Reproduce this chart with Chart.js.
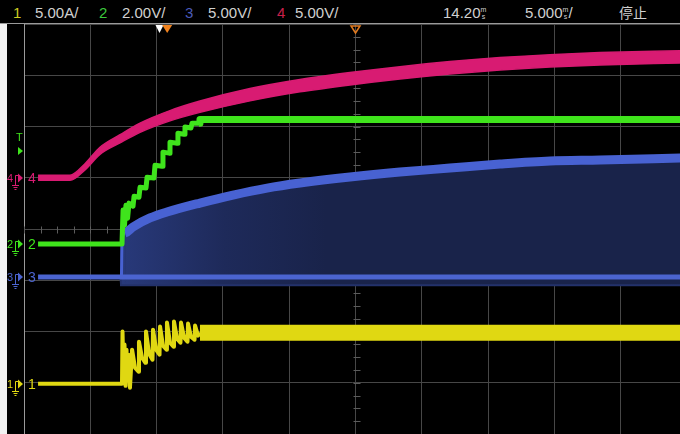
<!DOCTYPE html>
<html>
<head>
<meta charset="utf-8">
<script src="https://cdn.jsdelivr.net/npm/chart.js@4.4.0/dist/chart.umd.min.js"></script>
<style>
  html, body { margin: 0; padding: 0; background: #000; }
  #wrap { position: relative; width: 680px; height: 434px; overflow: hidden; background: #000; font-family: "Liberation Sans", Arial, sans-serif; }
  #scope { position: absolute; left: 0; top: 0; }
  #header { position: absolute; left: 0; top: 0; width: 680px; height: 23px; border-bottom: 1px solid #9a9a9a; background: #000; color: #d0d0d0; font-size: 15px; }
  #header span { position: absolute; top: 4px; line-height: 17px; white-space: nowrap; }
  #header .stk { position: static; display: inline-block; font-size: 7px; line-height: 7px; vertical-align: top; margin-top: 2px; text-align: center; }
  #strip { position: absolute; left: 0; top: 24px; width: 7px; height: 410px; background: #f2f2f2; }
  .mk { position: absolute; }
</style>
</head>
<body>
<div id="wrap">
  <canvas id="scope" width="680" height="434"></canvas>
  <div id="header">
    <span style="left:13px;color:#cccc22">1</span>
    <span style="left:35px">5.00A/</span>
    <span style="left:99px;color:#3cc83c">2</span>
    <span style="left:122px">2.00V/</span>
    <span style="left:185px;color:#4a5ab8">3</span>
    <span style="left:208px">5.00V/</span>
    <span style="left:277px;color:#c8204a">4</span>
    <span style="left:295px">5.00V/</span>
    <span style="left:443px">14.20<span class="stk">m<br>s</span></span>
    <span style="left:525px">5.000<span class="stk">m<br>s</span>/</span>
    <span style="left:619px;font-family:'Noto Sans CJK SC';font-size:14px">停止</span>
  </div>
  <div id="strip"></div>
</div>
<script>
// horizontal: 5.000 ms/div, 14.20 ms at screen centre
const xGridMs = [-10.8, -5.8, -0.8, 4.2, 9.2, 14.2, 19.2, 24.2, 29.2, 34.2];

// ch4 (5.00 V/div): upper and lower edge of the trace band
const ch4Time = [-9.74, -7.33, -6.20, -5.07, -3.56, -2.05, 0.21, 2.47, 6.24, 10.01, 13.78, 17.55, 21.32, 25.10, 28.87, 32.64, 38.7];
const ch4MaxVolt = [0.25, 0.25, 1.37, 2.98, 4.20, 5.33, 6.55, 7.48, 8.70, 9.58, 10.26, 10.84, 11.33, 11.72, 12.01, 12.21, 12.40];
const ch4MinVolt = [-0.25, -0.25, 0.77, 2.28, 3.40, 4.43, 5.55, 6.38, 7.50, 8.38, 9.06, 9.64, 10.13, 10.52, 10.81, 11.01, 11.20];

// ch2 (2.00 V/div)
const ch2Time = [-9.74, -3.41, -3.33, -3.22, -3.11, -2.99, -2.88, -2.58, -2.50, -2.13, -2.05, -1.60, -1.52, -1.00, -0.92, -0.39, -0.32, 0.14, 0.21, 0.74, 0.81, 1.27, 1.34, 1.79, 1.87, 2.40, 2.47, 38.7];
const ch2Volt = [0, 0, 1.33, 0.74, 1.52, 1.01, 1.60, 1.48, 1.87, 1.83, 2.22, 2.19, 2.61, 2.58, 3.08, 3.04, 3.59, 3.55, 3.98, 3.94, 4.33, 4.29, 4.57, 4.53, 4.72, 4.72, 4.86, 4.86];

// ch3 (5.00 V/div): baseline, upper and lower envelope
const ch3BaseTime = [-9.74, 38.7];
const ch3BaseVolt = [0, 0];
const ch3EnvTime = [-3.45, -3.41, -3.18, -2.58, -1.30, -0.02, 2.47, 4.96, 7.53, 10.01, 13.78, 17.55, 21.32, 25.10, 28.87, 32.64, 38.7];
const ch3MaxVolt = [0, 3.61, 4.29, 4.88, 5.76, 6.34, 7.22, 8.00, 8.68, 9.17, 9.76, 10.24, 10.63, 11.02, 11.32, 11.41, 11.61];
const ch3MinVolt = [0, -0.7, -0.7, -0.7, -0.7, -0.7, -0.7, -0.7, -0.7, -0.7, -0.7, -0.7, -0.7, -0.7, -0.7, -0.7, -0.7];

// ch1 (5.00 A/div)
const ch1Time = [-9.74, -3.41, -3.37, -3.30, -3.22, -3.14, -3.07, -2.99, -2.92, -2.81, -2.65, -2.43, -2.16, -2.13, -1.90, -1.64, -1.60, -1.37, -1.11, -1.07, -0.84, -0.58, -0.54, -0.32, -0.05, -0.02, 0.21, 0.48, 0.51, 0.74, 1.00, 1.04, 1.27, 1.53, 1.57, 1.79, 2.06, 2.10, 2.32, 2.47, 38.7];
const ch1Amp = [0, 0, 5.09, 0.88, 3.82, -0.20, 3.33, 0.39, 2.84, -0.39, 3.33, 1.57, 1.17, 4.11, 2.54, 2.05, 5.09, 2.94, 2.35, 5.28, 3.33, 2.84, 5.58, 3.72, 3.33, 5.97, 4.01, 3.62, 6.07, 4.40, 4.01, 5.97, 4.50, 4.11, 5.87, 4.60, 4.31, 5.68, 4.70, 4.99, 4.99];

const triggerLevelCh2 = 3.64;

function pts(xs, ys) {
    return xs.map((x, i) => ({ x: x, y: ys[i] }));
}

// navy fill of ch3 envelope, brighter near the start
function ch3Fill(context) {
    const chart = context.chart;
    if (!chart.chartArea) return '#1b2650';
    const x0 = chart.scales.x.getPixelForValue(-3.4);
    const x1 = chart.scales.x.getPixelForValue(12);
    const g = chart.ctx.createLinearGradient(x0, 0, x1, 0);
    g.addColorStop(0, '#28397a');
    g.addColorStop(0.5, '#1e2a5a');
    g.addColorStop(1, '#19234a');
    return g;
}

// centre graticule minor ticks and top markers
const scopeMarks = {
    id: 'scopeMarks',
    beforeDatasetsDraw(chart) {
        const { ctx, scales } = chart;
        const cy = Math.round(scales.div.getPixelForValue(0)) + 0.5;
        const cx = Math.round(scales.x.getPixelForValue(14.2)) + 0.5;
        ctx.save();
        ctx.strokeStyle = '#5c5c5c';
        ctx.lineWidth = 1;
        ctx.beginPath();
        for (let t = -10.8; t < 40; t += 1.25) {
            const px = Math.round(scales.x.getPixelForValue(t)) + 0.5;
            ctx.moveTo(px, cy - 3);
            ctx.lineTo(px, cy + 4);
        }
        for (let d = -4; d <= 4; d += 0.25) {
            const py = Math.round(scales.div.getPixelForValue(d)) + 0.5;
            ctx.moveTo(cx - 3, py);
            ctx.lineTo(cx + 4, py);
        }
        ctx.stroke();
        ctx.restore();
    },
    afterDatasetsDraw(chart) {
        const { ctx, scales, chartArea } = chart;
        const top = chartArea.top + 1;
        ctx.save();
        // white marker
        let px = scales.x.getPixelForValue(-0.58);
        ctx.fillStyle = '#ffffff';
        ctx.beginPath();
        ctx.moveTo(px - 4, top); ctx.lineTo(px + 4, top); ctx.lineTo(px, top + 8); ctx.closePath();
        ctx.fill();
        // trigger point
        px = scales.x.getPixelForValue(0);
        ctx.fillStyle = '#f0821e';
        ctx.beginPath();
        ctx.moveTo(px - 5, top); ctx.lineTo(px + 5, top); ctx.lineTo(px, top + 8); ctx.closePath();
        ctx.fill();
        // delay reference
        px = scales.x.getPixelForValue(14.2);
        ctx.strokeStyle = '#e07a20';
        ctx.lineWidth = 1.5;
        ctx.beginPath();
        ctx.moveTo(px - 4.5, top + 1); ctx.lineTo(px + 4.5, top + 1); ctx.lineTo(px, top + 8); ctx.closePath();
        ctx.stroke();
        ctx.restore();
    }
};

const gridColor = '#474747';
const pink = '#d81b72';

const chart = new Chart(document.getElementById('scope'), {
    type: 'line',
    data: {
        datasets: [
            {
                label: '4 max',
                data: pts(ch4Time, ch4MaxVolt),
                yAxisID: 'y4',
                borderColor: pink,
                backgroundColor: pink,
                borderWidth: 1.5,
                fill: '+1',
                cubicInterpolationMode: 'monotone',
                pointRadius: 0,
                order: 0
            },
            {
                label: '4 min',
                data: pts(ch4Time, ch4MinVolt),
                yAxisID: 'y4',
                borderColor: pink,
                borderWidth: 1.5,
                cubicInterpolationMode: 'monotone',
                pointRadius: 0,
                order: 0
            },
            {
                label: '2',
                data: pts(ch2Time, ch2Volt),
                yAxisID: 'y2',
                borderColor: '#3fe41c',
                borderJoinStyle: 'round',
                segment: {
                    borderWidth: c => (c.p0.parsed.x >= 2.4 ? 7 : 5)
                },
                tension: 0,
                pointRadius: 0,
                order: 1
            },
            {
                label: '3 max',
                data: pts(ch3EnvTime, ch3MaxVolt),
                yAxisID: 'y3',
                borderColor: '#4862d2',
                backgroundColor: ch3Fill,
                fill: '+1',
                cubicInterpolationMode: 'monotone',
                borderJoinStyle: 'round',
                segment: {
                    borderWidth: c => (c.p0.parsed.x < -3.3 ? 3 : 9)
                },
                pointRadius: 0,
                order: 3
            },
            {
                label: '3 min',
                data: pts(ch3EnvTime, ch3MinVolt),
                yAxisID: 'y3',
                borderColor: '#23316a',
                borderWidth: 4,
                pointRadius: 0,
                order: 4
            },
            {
                label: '3',
                data: pts(ch3BaseTime, ch3BaseVolt),
                yAxisID: 'y3',
                borderColor: '#4b64d0',
                borderWidth: 5,
                pointRadius: 0,
                order: 2
            },
            {
                label: '1',
                data: pts(ch1Time, ch1Amp),
                yAxisID: 'y1',
                borderColor: '#e0d812',
                borderJoinStyle: 'round',
                segment: {
                    borderWidth: c => (c.p0.parsed.x >= 2.4 ? 16 : 4)
                },
                tension: 0,
                pointRadius: 0,
                order: 5
            }
        ]
    },
    options: {
        responsive: false,
        animation: false,
        events: [],
        layout: { padding: { left: 24, top: 24, right: 0, bottom: 0 } },
        plugins: {
            legend: { display: false },
            tooltip: { enabled: false }
        },
        scales: {
            x: {
                type: 'linear',
                min: -10.8,
                max: 38.67,
                afterBuildTicks: axis => {
                    axis.ticks = xGridMs.map(v => ({ value: v }));
                },
                ticks: { display: false },
                grid: { color: gridColor, drawTicks: false },
                border: { display: false }
            },
            div: {
                type: 'linear',
                position: 'left',
                min: -4,
                max: 4,
                ticks: { display: false, stepSize: 1 },
                grid: { color: gridColor, drawTicks: false },
                border: { display: true, color: '#9a9a9a', width: 1 }
            },
            y1: { type: 'linear', display: false, min: -4.9, max: 35.1 },
            y2: { type: 'linear', display: false, min: -7.41, max: 8.59 },
            y3: { type: 'linear', display: false, min: -15.32, max: 24.69 },
            y4: { type: 'linear', display: false, min: -25, max: 15 }
        }
    },
    plugins: [scopeMarks]
});

// channel ground markers on the left, placed from each channel's axis
const wrap = document.getElementById('wrap');
const channels = [
    { axis: 'y4', color: pink, label: '4' },
    { axis: 'y2', color: '#3fe41c', label: '2' },
    { axis: 'y3', color: '#4b64d0', label: '3' },
    { axis: 'y1', color: '#e0d812', label: '1' }
];
channels.forEach(ch => {
    const y = chart.scales[ch.axis].getPixelForValue(0);
    const d = document.createElement('div');
    d.className = 'mk';
    d.style.left = '6px';
    d.style.top = Math.round(y - 12) + 'px';
    d.innerHTML =
        '<svg width="34" height="26" xmlns="http://www.w3.org/2000/svg">' +
        '<text x="1" y="16" font-size="11" font-family="Liberation Sans" fill="' + ch.color + '">' + ch.label + '</text>' +
        '<path d="M9.5 19 V9.5 H12" stroke="' + ch.color + '" fill="none" stroke-width="1"/>' +
        '<path d="M12 7.5 L17 12 L12 16.5 Z" fill="' + ch.color + '"/>' +
        '<path d="M6 19.5 H13 M7.5 21.5 H11.5 M8.5 23.5 H10.5" stroke="' + ch.color + '" stroke-width="1"/>' +
        '<text x="22" y="17" font-size="14" font-family="Liberation Sans" fill="' + ch.color + '">' + ch.label + '</text>' +
        '</svg>';
    wrap.appendChild(d);
});

// trigger level marker (ch2)
const ty = chart.scales.y2.getPixelForValue(triggerLevelCh2);
const tm = document.createElement('div');
tm.className = 'mk';
tm.style.left = '15px';
tm.style.top = Math.round(ty - 20) + 'px';
tm.innerHTML =
    '<svg width="12" height="26" xmlns="http://www.w3.org/2000/svg">' +
    '<text x="1" y="10" font-size="11" font-family="Liberation Sans" fill="#3fe41c">T</text>' +
    '<path d="M3 16 L8 20 L3 24 Z" fill="#3fe41c"/>' +
    '</svg>';
wrap.appendChild(tm);
</script>
</body>
</html>
